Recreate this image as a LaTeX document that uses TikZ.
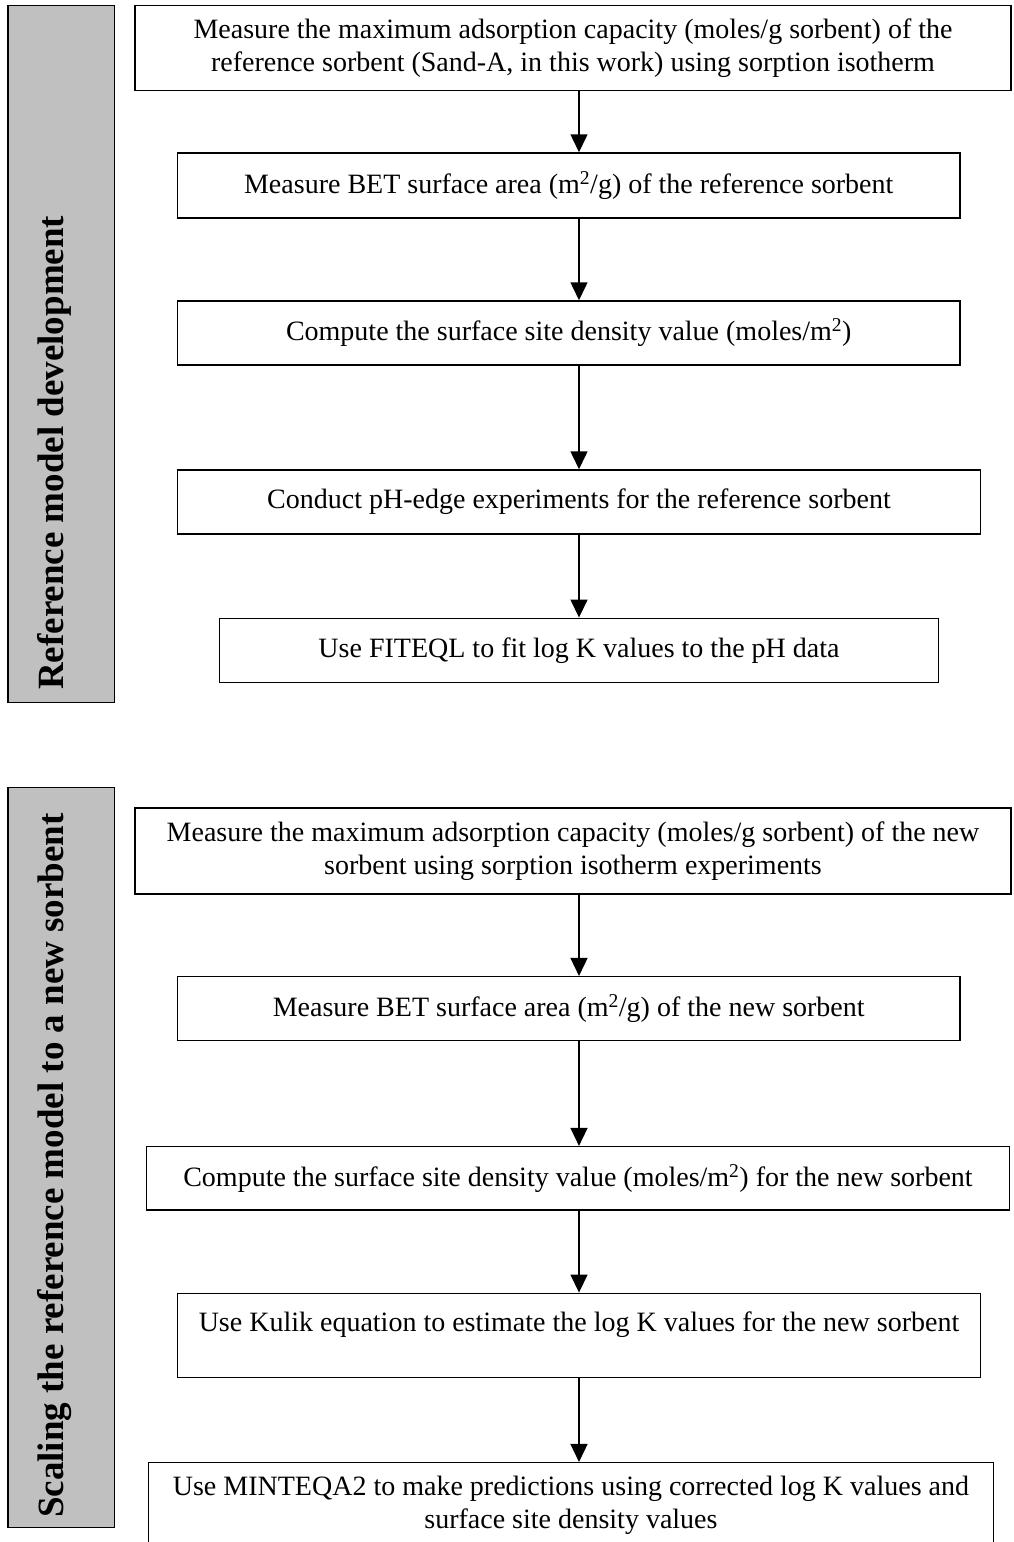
\documentclass[tikz,border=0pt]{standalone}
\usepackage{fontspec}
\setmainfont{Liberation Serif}
\usetikzlibrary{arrows.meta}
\definecolor{barfill}{RGB}{192,192,192}

\begin{document}
\begin{tikzpicture}[x=1pt,y=1pt,yscale=-1,
    stepbox/.style={draw, line width=1.5pt, align=center, inner sep=0pt, font=\fontsize{28}{33}\selectfont},
    sidebar/.style={draw, line width=1.5pt, fill=barfill},
    sidetext/.style={rotate=90, anchor=base west, inner sep=0pt, font=\fontsize{37}{44}\selectfont\bfseries},
    flow/.style={line width=1.5pt, -{Triangle[length=18pt,width=17pt]}}]
        \useasboundingbox (0,0) rectangle (1013,1542);
        \clip (0,0) rectangle (1013,1542);
        \coordinate (axis) at (579,0);
        % side bars
        \draw [sidebar] (8,5.7) rectangle (114.5,702.7);
        \draw [sidebar] (8,787.3) rectangle (114.5,1527.7);
        \node [sidetext] (reflabel) at (63,690) {Reference model development};
        \node [sidetext] (newlabel) at (63,1518) {Scaling the reference model to a new sorbent};
        % reference sorbent
        \node [stepbox, minimum width=876pt, minimum height=85pt] (ref1) at (573,48) {Measure the maximum adsorption capacity (moles/g sorbent) of the\\reference sorbent (Sand-A, in this work) using sorption isotherm};
        \node [stepbox, minimum width=782.5pt, minimum height=65pt] (ref2) at (568.75,185.5) {Measure BET surface area (m\textsuperscript{2}/g) of the reference sorbent};
        \node [stepbox, minimum width=782.5pt, minimum height=64pt] (ref3) at (568.75,333) {Compute the surface site density value (moles/m\textsuperscript{2})};
        \node [stepbox, minimum width=803pt, minimum height=64pt] (ref4) at (579,502) {Conduct pH-edge experiments for the reference sorbent};
        \node [stepbox, minimum width=719.3pt, minimum height=64.4pt] (ref5) at (579,650.5) {Use FITEQL to fit log K values to the pH data};
        % new sorbent
        \node [stepbox, minimum width=876pt, minimum height=85.7pt] (new1) at (573,851) {Measure the maximum adsorption capacity (moles/g sorbent) of the new\\sorbent using sorption isotherm experiments};
        \node [stepbox, minimum width=782.5pt, minimum height=64pt] (new2) at (568.75,1008.7) {Measure BET surface area (m\textsuperscript{2}/g) of the new sorbent};
        \node [stepbox, minimum width=863pt, minimum height=63.3pt] (new3) at (578,1178.3) {Compute the surface site density value (moles/m\textsuperscript{2}) for the new sorbent};
        \node [stepbox, minimum width=803pt, text height=38pt, text depth=46pt] (new4) at (579,1335.3) {Use Kulik equation to estimate the log K values for the new sorbent};
        \node [stepbox, minimum width=845pt, minimum height=85pt] (new5) at (571,1505.2) {Use MINTEQA2 to make predictions using corrected log K values and\\surface site density values};
        % arrows
        \draw [flow] (ref1.south -| axis) -- (ref2.north -| axis);
        \draw [flow] (ref2.south -| axis) -- (ref3.north -| axis);
        \draw [flow] (ref3.south -| axis) -- (ref4.north -| axis);
        \draw [flow] (ref4.south -| axis) -- (ref5.north -| axis);
        \draw [flow] (new1.south -| axis) -- (new2.north -| axis);
        \draw [flow] (new2.south -| axis) -- (new3.north -| axis);
        \draw [flow] (new3.south -| axis) -- (new4.north -| axis);
        \draw [flow] (new4.south -| axis) -- (new5.north -| axis);
    \end{tikzpicture}
\end{document}
